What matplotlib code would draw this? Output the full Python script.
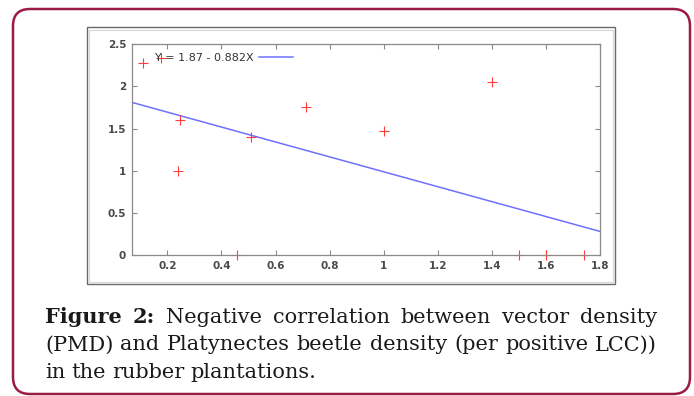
import matplotlib
matplotlib.use("Agg")
import numpy as np
from matplotlib import pyplot as plt
from matplotlib.patches import FancyBboxPatch, Rectangle

# values
pmd = [0.11, 0.177, 0.247, 0.238, 0.458, 0.509, 0.712, 1.0, 1.4, 1.50, 1.6, 1.74]
beetle = [2.27, 2.33, 1.60, 1.0, 0.0, 1.40, 1.75, 1.47, 2.05, 0.0, 0.0, 0.0]
intercept = 1.87
slope = -0.882
fit_label = "Y = 1.87 - 0.882X"
xticks = [0.2, 0.4, 0.6, 0.8, 1.0, 1.2, 1.4, 1.6, 1.8]
xtick_labels = ["0.2", "0.4", "0.6", "0.8", "1", "1.2", "1.4", "1.6", "1.8"]
yticks = [0, 0.5, 1, 1.5, 2, 2.5]
ytick_labels = ["0", "0.5", "1", "1.5", "2", "2.5"]
caption_lines = [
    [("Figure", "bold"), ("2:", "bold"), ("Negative", "normal"), ("correlation", "normal"),
     ("between", "normal"), ("vector", "normal"), ("density", "normal")],
    [("(PMD)", "normal"), ("and", "normal"), ("Platynectes", "normal"), ("beetle", "normal"),
     ("density", "normal"), ("(per", "normal"), ("positive", "normal"), ("LCC))", "normal")],
    [("in", "normal"), ("the", "normal"), ("rubber", "normal"), ("plantations.", "normal")],
]

W, H = 694, 396
fig = plt.figure(figsize=(W / 100, H / 100), dpi=100)

# background axes in pixel coordinates for frames and caption
bg = fig.add_axes([0, 0, 1, 1], zorder=0)
bg.set_xlim(0, W)
bg.set_ylim(H, 0)
bg.axis("off")

bg.add_patch(FancyBboxPatch((13, 9), 677, 385, boxstyle="round,pad=0,rounding_size=17",
                            fill=False, edgecolor="#9b1a46", linewidth=1.8))
bg.add_patch(Rectangle((87, 27), 528.5, 257, fill=False, edgecolor="#6a6a6a", linewidth=1.0))
bg.add_patch(Rectangle((89.5, 29.5), 523.5, 252, fill=False, edgecolor="#d8d8d8", linewidth=0.8))

# caption, justified on the first two lines
renderer = fig.canvas.get_renderer()
x_left, x_right = 45, 657
baselines = [323, 350.5, 378]
for li, words in enumerate(caption_lines):
    texts = []
    for w, weight in words:
        t = bg.text(0, baselines[li], w, fontsize=15, family="DejaVu Serif",
                    fontweight=weight, color="#1a1a1a", va="baseline", ha="left")
        texts.append(t)
    widths = [t.get_window_extent(renderer).width for t in texts]
    if li < 2:
        gap = (x_right - x_left - sum(widths)) / (len(texts) - 1)
    else:
        gap = 6
    x = x_left
    for t, wd in zip(texts, widths):
        t.set_x(x)
        x += wd + gap

# the chart itself
ax = fig.add_axes([131.7 / W, 1 - 255.3 / H, (600 - 131.7) / W, (255.3 - 44) / H], zorder=1)
ax.set_xlim(0.068, 1.8)
ax.set_ylim(0, 2.5)

xs = np.array(ax.get_xlim())
ax.plot(xs, intercept + slope * xs, color="#7070ff", linewidth=1.1, label=fit_label, zorder=2)
ax.plot(pmd, beetle, linestyle="none", marker="+", markersize=6.5, markeredgewidth=0.8,
        color="#ff3b3b", clip_on=False, zorder=2)

for s in ax.spines.values():
    s.set_color("#8a8a8a")
    s.set_linewidth(0.9)
    s.set_zorder(3)

ax.set_xticks(xticks)
ax.set_xticklabels(xtick_labels)
ax.set_yticks(yticks)
ax.set_yticklabels(ytick_labels)
ax.tick_params(direction="in", length=3.5, width=0.8, color="#8a8a8a", top=True, right=True,
               labelsize=7.5, labelcolor="#4a4a4a", pad=4)
for lab in ax.get_xticklabels() + ax.get_yticklabels():
    lab.set_fontweight("bold")

leg = ax.legend(loc="upper left", bbox_to_anchor=(0.05, 0.957), frameon=False, markerfirst=False,
                handlelength=3.0, handletextpad=0.5, borderpad=0, borderaxespad=0,
                prop={"size": 8})
for t in leg.get_texts():
    t.set_color("#333333")

fig.savefig("out.png", dpi=100)
